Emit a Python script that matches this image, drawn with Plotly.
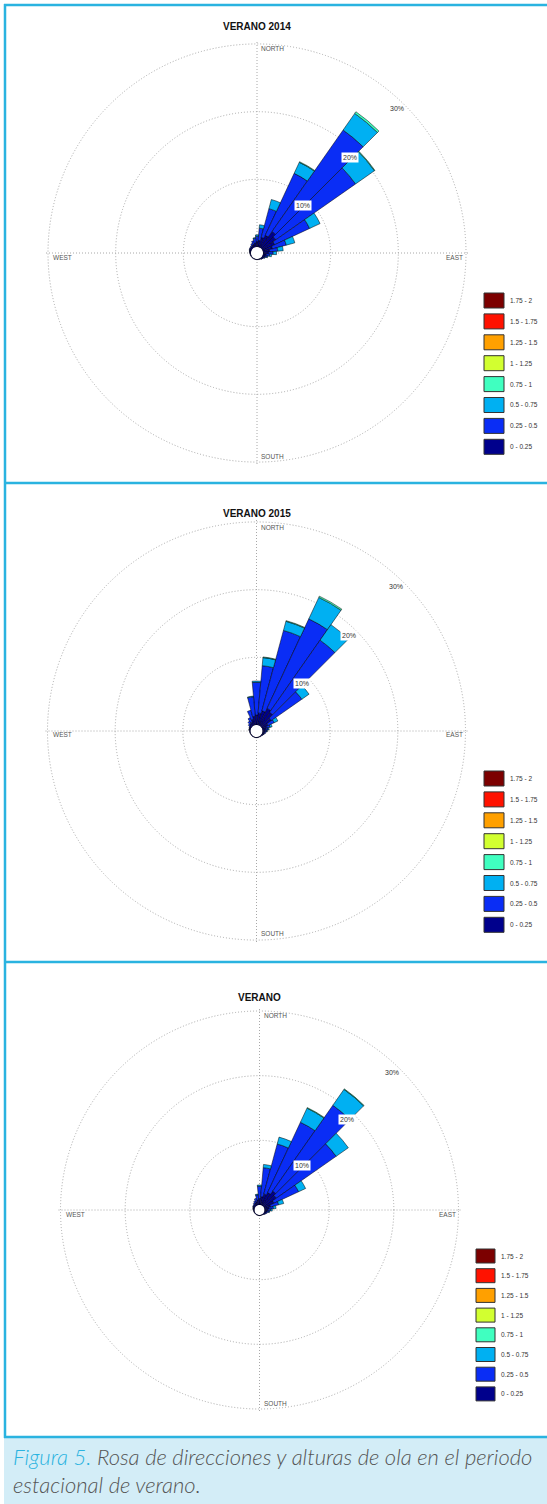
import math
import plotly.graph_objects as go

W, H = 547, 1504

# Direction sectors (degrees from north, clockwise)
DIRECTIONS = [0, 10, 20, 30, 40, 50, 60, 70, 80, 90, 100, 110, 120, 130, 140, 150, 160, 170,
              180, 190, 200, 210, 220, 230, 240, 250, 260, 270, 280, 290, 300, 310, 320, 330, 340, 350]

# Wave height classes (m) and their colours
HEIGHT_CLASSES = ["0 - 0.25", "0.25 - 0.5", "0.5 - 0.75", "0.75 - 1",
                  "1 - 1.25", "1.25 - 1.5", "1.5 - 1.75", "1.75 - 2"]
CLASS_COLORS = ["#00008c", "#0a2df5", "#00b0f2", "#40ffc0",
                "#d2ff30", "#ffa000", "#ff1200", "#7c0000"]

RADIAL_TICKS = [10, 20, 30]
RADIAL_TICK_TEXT = ["10%", "20%", "30%"]
CARDINALS = ["NORTH", "EAST", "SOUTH", "WEST"]

ZERO = [0, 0, 0, 0, 0, 0, 0, 0, 0, 0, 0, 0, 0, 0, 0, 0, 0, 0,
        0, 0, 0, 0, 0, 0, 0, 0, 0, 0, 0, 0, 0, 0, 0, 0, 0, 0]

# VERANO 2014 - frequency (%) per sector and height class
v2014_h0 = [0.8, 1.0, 1.5, 2.0, 3.0, 2.5, 2.0, 1.5, 1.0, 0.8, 0.5, 0.4, 0.3, 0.25, 0.2, 0.15, 0.15, 0.1,
            0.1, 0.1, 0.1, 0.1, 0.1, 0.1, 0.1, 0.15, 0.15, 0.2, 0.2, 0.25, 0.3, 0.3, 0.35, 0.4, 0.5, 0.6]
v2014_h1 = [0.8, 1.8, 4.4, 10.1, 18.3, 14.4, 5.7, 2.1, 1.2, 0.7, 0.5, 0.3, 0.15, 0.1, 0.05, 0, 0, 0,
            0, 0, 0, 0, 0, 0, 0, 0, 0, 0, 0.05, 0.05, 0.1, 0.1, 0.15, 0.3, 0.5, 0.7]
v2014_h2 = [0.2, 0.5, 1.4, 1.8, 3.0, 3.4, 1.7, 1.3, 0.8, 0.5, 0.3, 0.1, 0.05, 0, 0, 0, 0, 0,
            0, 0, 0, 0, 0, 0, 0, 0, 0, 0, 0, 0, 0, 0, 0, 0, 0, 0.1]
v2014_h3 = [0, 0, 0, 0.1, 0.3, 0.1, 0, 0, 0, 0, 0, 0, 0, 0, 0, 0, 0, 0,
            0, 0, 0, 0, 0, 0, 0, 0, 0, 0, 0, 0, 0, 0, 0, 0, 0, 0]

# VERANO 2015
v2015_h0 = [1.5, 1.8, 2.2, 2.8, 2.5, 1.8, 1.0, 0.7, 0.5, 0.4, 0.3, 0.25, 0.2, 0.15, 0.15, 0.1, 0.1, 0.1,
            0.1, 0.1, 0.1, 0.1, 0.1, 0.1, 0.1, 0.1, 0.15, 0.15, 0.2, 0.2, 0.25, 0.35, 0.5, 0.6, 0.9, 1.3]
v2015_h1 = [4.8, 7.0, 12.3, 14.6, 13.0, 5.5, 1.0, 0.5, 0.35, 0.25, 0.2, 0.1, 0.05, 0, 0, 0, 0, 0,
            0, 0, 0, 0, 0, 0, 0, 0, 0, 0, 0.05, 0.05, 0.1, 0.25, 0.4, 0.7, 1.4, 2.9]
v2015_h2 = [0.2, 1.2, 1.4, 3.5, 2.8, 1.3, 0.6, 0.3, 0.15, 0.05, 0, 0, 0, 0, 0, 0, 0, 0,
            0, 0, 0, 0, 0, 0, 0, 0, 0, 0, 0, 0, 0, 0, 0, 0, 0, 0.1]
v2015_h3 = [0, 0.1, 0.1, 0.2, 0, 0, 0, 0, 0, 0, 0, 0, 0, 0, 0, 0, 0, 0,
            0, 0, 0, 0, 0, 0, 0, 0, 0, 0, 0, 0, 0, 0, 0, 0, 0, 0]

# VERANO (whole period)
vall_h0 = [1.0, 1.3, 1.8, 2.2, 2.8, 2.4, 1.7, 1.0, 0.7, 0.5, 0.4, 0.3, 0.25, 0.2, 0.15, 0.1, 0.1, 0.1,
           0.1, 0.1, 0.1, 0.1, 0.1, 0.1, 0.1, 0.15, 0.15, 0.2, 0.2, 0.25, 0.3, 0.3, 0.4, 0.45, 0.6, 0.8]
vall_h1 = [1.9, 4.5, 8.0, 12.0, 16.2, 11.3, 4.2, 1.3, 0.7, 0.45, 0.3, 0.2, 0.1, 0.05, 0, 0, 0, 0,
           0, 0, 0, 0, 0, 0, 0, 0, 0, 0, 0.05, 0.05, 0.1, 0.15, 0.2, 0.35, 0.5, 0.8]
vall_h2 = [0.2, 0.5, 1.1, 2.4, 3.0, 2.3, 1.2, 0.8, 0.4, 0.25, 0.1, 0, 0, 0, 0, 0, 0, 0,
           0, 0, 0, 0, 0, 0, 0, 0, 0, 0, 0, 0, 0, 0, 0, 0, 0, 0.1]
vall_h3 = [0, 0, 0, 0.1, 0.1, 0, 0, 0, 0, 0, 0, 0, 0, 0, 0, 0, 0, 0,
           0, 0, 0, 0, 0, 0, 0, 0, 0, 0, 0, 0, 0, 0, 0, 0, 0, 0]

PANEL_TITLES = ["VERANO 2014", "VERANO 2015", "VERANO"]
PANEL_DATA = [
    [v2014_h0, v2014_h1, v2014_h2, v2014_h3, ZERO, ZERO, ZERO, ZERO],
    [v2015_h0, v2015_h1, v2015_h2, v2015_h3, ZERO, ZERO, ZERO, ZERO],
    [vall_h0, vall_h1, vall_h2, vall_h3, ZERO, ZERO, ZERO, ZERO],
]

# Panel geometry in pixels: centre, radius of the 30 % ring, hole radius, title y, legend block
PANELS = [
    dict(cx=257, cy=253, r=209, hole=6, ty=27,
         leg_x=484, leg_y=293, leg_w=20, leg_h=15, leg_dy=20.9),
    dict(cx=256.5, cy=731, r=209, hole=6, ty=513,
         leg_x=484, leg_y=771, leg_w=20, leg_h=15, leg_dy=20.9),
    dict(cx=259.5, cy=1210, r=199, hole=5, ty=997,
         leg_x=476, leg_y=1249, leg_w=19, leg_h=14, leg_dy=19.7),
]
R_MAX = 30.4   # radial range end, slightly past the last ring so it gets drawn

FRAME = "#2ab3e0"
GRID = "#a8a8a8"
FONT = "Liberation Sans, Arial, sans-serif"

fig = go.Figure()
shapes, annotations = [], []
layout_polars = {}


def px(x):
    return x / W


def py(y):
    return 1 - y / H


def label(x, y, text, size, color, xanchor="center", **kw):
    return dict(x=px(x), y=py(y), xref="paper", yref="paper", text=text, showarrow=False,
                xanchor=xanchor, yanchor="middle",
                font=dict(family=kw.pop("family", FONT), size=size, color=color,
                          **({"weight": kw.pop("weight")} if "weight" in kw else {})), **kw)


for k, (p, title, data) in enumerate(zip(PANELS, PANEL_TITLES, PANEL_DATA)):
    name = "polar" if k == 0 else f"polar{k + 1}"
    for cls, color, vals in zip(HEIGHT_CLASSES, CLASS_COLORS, data):
        fig.add_trace(go.Barpolar(
            r=vals, theta=DIRECTIONS, width=10, name=cls,
            marker=dict(color=color, line=dict(color="black", width=0.5)),
            subplot=name, showlegend=False, hoverinfo="skip",
        ))
    cx, cy, r, hole = p["cx"], p["cy"], p["r"], p["hole"]
    scale = (r - hole) / 30.0
    rdom = hole + scale * R_MAX
    layout_polars[name] = dict(
        domain=dict(x=[px(cx - rdom), px(cx + rdom)], y=[py(cy + rdom), py(cy - rdom)]),
        hole=hole / rdom,
        bgcolor="rgba(0,0,0,0)",
        barmode="stack",
        radialaxis=dict(range=[0, R_MAX], tickvals=RADIAL_TICKS, showticklabels=False, ticks="",
                        showline=False, gridcolor=GRID, griddash="1px,2px", gridwidth=1),
        angularaxis=dict(rotation=90, direction="clockwise", tickvals=[0, 90, 180, 270],
                         showticklabels=False, ticks="", showline=False,
                         gridcolor=GRID, griddash="1px,2px", gridwidth=1),
    )

    # title
    annotations.append(label(cx, p["ty"], f"<b>{title}</b>", 10, "#111111"))
    # cardinal labels just inside the outer ring
    annotations += [
        label(cx + 2, cy - r + 5, CARDINALS[0], 6.5, "#555555", xanchor="left"),
        label(cx + r - 1, cy + 4, CARDINALS[1], 6.5, "#555555", xanchor="right"),
        label(cx + 2, cy + r - 6, CARDINALS[2], 6.5, "#555555", xanchor="left"),
        label(cx - r + 3, cy + 4, CARDINALS[3], 6.5, "#555555", xanchor="left"),
    ]
    # percentage labels along the 44 deg direction
    ang = math.radians(44)
    for t, lab in zip(RADIAL_TICKS, RADIAL_TICK_TEXT):
        rr = hole + scale * t - 8
        annotations.append(label(cx + rr * math.sin(ang), cy - rr * math.cos(ang), lab, 7, "#333333",
                                 bgcolor="white" if t < 30 else "rgba(0,0,0,0)", borderpad=1))
    # legend boxes, highest class on top
    for i, (cls, color) in enumerate(zip(reversed(HEIGHT_CLASSES), reversed(CLASS_COLORS))):
        y0 = p["leg_y"] + i * p["leg_dy"]
        shapes.append(dict(type="rect", xref="paper", yref="paper",
                           x0=px(p["leg_x"]), x1=px(p["leg_x"] + p["leg_w"]),
                           y0=py(y0 + p["leg_h"]), y1=py(y0),
                           fillcolor=color, line=dict(color="#333333", width=1)))
        annotations.append(label(p["leg_x"] + p["leg_w"] + 4, y0 + p["leg_h"] / 2, cls, 6.5, "#333333",
                                 xanchor="left"))

# frame around the three panels and caption band
shapes += [
    dict(type="rect", xref="paper", yref="paper", x0=px(4), x1=1, y0=0, y1=py(1438),
         fillcolor="#d3edf7", line=dict(width=0), layer="below"),
    dict(type="line", xref="paper", yref="paper", x0=px(5), x1=px(5), y0=py(4), y1=py(1438),
         line=dict(color=FRAME, width=2.5)),
    dict(type="line", xref="paper", yref="paper", x0=px(4), x1=1, y0=py(5), y1=py(5),
         line=dict(color=FRAME, width=2.5)),
    dict(type="line", xref="paper", yref="paper", x0=px(4), x1=1, y0=py(483), y1=py(483),
         line=dict(color=FRAME, width=2.5)),
    dict(type="line", xref="paper", yref="paper", x0=px(4), x1=1, y0=py(962), y1=py(962),
         line=dict(color=FRAME, width=2.5)),
    dict(type="line", xref="paper", yref="paper", x0=px(4), x1=1, y0=py(1437), y1=py(1437),
         line=dict(color=FRAME, width=2.5)),
]

CAP = "Lato, 'Open Sans', sans-serif"
annotations += [
    label(11, 1456, "<i><span style='color:#2ab3e0'>Figura 5.</span> "
                    "Rosa de direcciones y alturas de ola en el periodo</i>",
          22, "#555555", xanchor="left", family=CAP, weight=300),
    label(11, 1484, "<i>estacional de verano.</i>", 22, "#555555", xanchor="left", family=CAP, weight=300),
]

fig.update_layout(
    width=W, height=H,
    margin=dict(l=0, r=0, t=0, b=0),
    paper_bgcolor="white",
    showlegend=False,
    shapes=shapes,
    annotations=annotations,
    **layout_polars,
)

fig.write_html("out.html")
